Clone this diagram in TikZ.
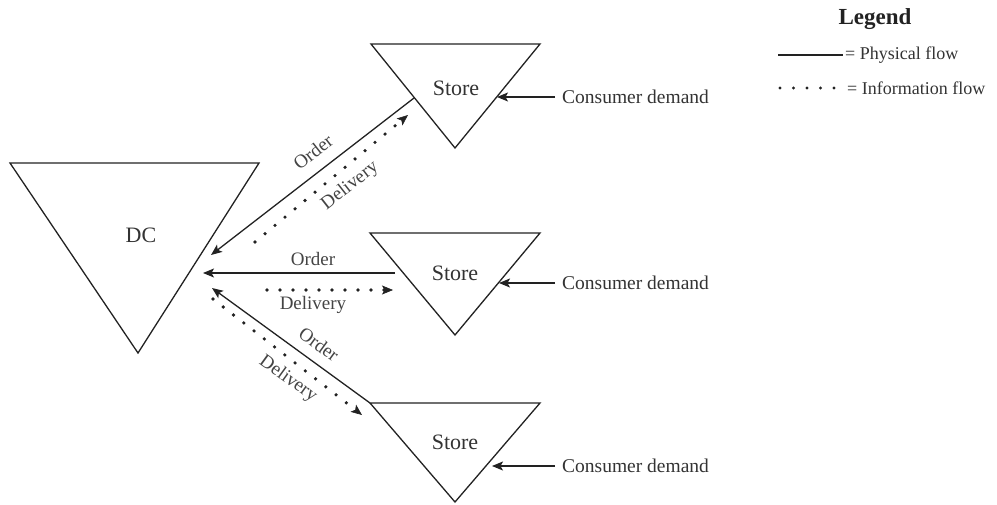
\documentclass[tikz,border=0pt]{standalone}
\usepackage{fontspec}
\setmainfont{Liberation Serif}
\usetikzlibrary{arrows.meta}
\definecolor{ink}{HTML}{222222}
\definecolor{txt}{HTML}{333333}
\definecolor{lbl}{HTML}{444444}
\tikzset{
  tri/.style={draw=ink, line width=1.3pt, line join=miter},
  phys/.style={draw=ink, line width=1.3pt, -{Stealth[length=11pt,width=9pt,inset=2.5pt]}},
  info/.style={draw=ink, line width=3.6pt, line cap=round, dash pattern=on 0pt off 13pt,
     -{Stealth[length=11pt,width=9pt,inset=2.5pt,line width=0.6pt]}},
  bigtxt/.style={text=txt, font=\fontsize{22}{26}\selectfont, inner sep=0pt},
  dtxt/.style={text=txt, font=\fontsize{19.5}{23}\selectfont, inner sep=0pt, anchor=west},
  flbl/.style={text=lbl, font=\fontsize{19}{23}\selectfont, inner sep=0pt},
  legtxt/.style={text=txt, font=\fontsize{18}{22}\selectfont, inner sep=0pt, anchor=west},
}
\begin{document}
\begin{tikzpicture}[x=1pt,y=-1pt]
\useasboundingbox (0,0) rectangle (997,504);
% triangles
\draw[tri] (10,163) -- (259,163) -- (138,353) -- cycle;
\draw[tri] (371,44) -- (540,44) -- (455,148) -- cycle;
\draw[tri] (370,233) -- (540,233) -- (455,335) -- cycle;
\draw[tri] (370,403) -- (540,403) -- (455,502) -- cycle;
\node[bigtxt] (dc) at (141,235) {DC};
\node[bigtxt] (s1) at (456,88) {Store};
\node[bigtxt] (s2) at (455,273) {Store};
\node[bigtxt] (s3) at (455,442) {Store};
% connector end points
\coordinate (a1) at (414,98);  \coordinate (a2) at (211,255);
\coordinate (b1) at (255,242); \coordinate (b2) at (408,115);
\coordinate (c1) at (395,273); \coordinate (c2) at (203,273);
\coordinate (d1) at (267,290); \coordinate (d2) at (393,290);
\coordinate (e1) at (370,403); \coordinate (e2) at (212,288);
\coordinate (f1) at (213,299); \coordinate (f2) at (362,415);
\draw[phys] (a1) -- (a2);
\draw[info] (b1) -- (b2);
\draw[phys] (c1) -- (c2);
\draw[info] (d1) -- (d2);
\draw[phys] (e1) -- (e2);
\draw[info] (f1) -- (f2);
% flow labels
\node[flbl, rotate=38] (o1) at (313,152) {Order};
\node[flbl, rotate=38] (l1) at (350,186) {Delivery};
\node[flbl] (o2) at (313,259) {Order};
\node[flbl] (l2) at (313,305) {Delivery};
\node[flbl, rotate=-36] (o3) at (319,344) {Order};
\node[flbl, rotate=-36] (l3) at (288,379) {Delivery};
% consumer demand
\node[dtxt] (cd1) at (562,97) {Consumer demand};
\node[dtxt] (cd2) at (562,283) {Consumer demand};
\node[dtxt] (cd3) at (562,466) {Consumer demand};
\coordinate (g1) at (555,97);  \coordinate (h1) at (497,97);
\coordinate (g2) at (555,283); \coordinate (h2) at (499,283);
\coordinate (g3) at (555,466); \coordinate (h3) at (492,466);
\draw[phys] (g1) -- (h1);
\draw[phys] (g2) -- (h2);
\draw[phys] (g3) -- (h3);
% legend
\node[text=ink, font=\bfseries\fontsize{23}{27}\selectfont, inner sep=0pt] (leg) at (875,19) {Legend};
\coordinate (p1) at (778,55); \coordinate (p2) at (843,55);
\draw[ink, line width=1.3pt] (p1) -- (p2);
\node[legtxt] (pt) at (845,55) {= Physical flow};
\coordinate (q1) at (780,88); \coordinate (q2) at (835.5,88);
\draw[ink, line width=3.4pt, line cap=round, dash pattern=on 0pt off 13.5pt] (q1) -- (q2);
\node[legtxt] (it) at (847,88) {= Information flow};
\end{tikzpicture}
\end{document}
